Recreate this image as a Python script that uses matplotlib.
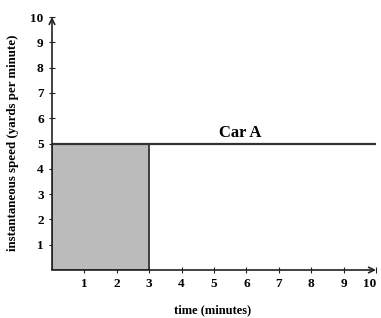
import matplotlib
matplotlib.use("Agg")
import matplotlib.pyplot as plt
from matplotlib.patches import Rectangle

x_ticks = [1, 2, 3, 4, 5, 6, 7, 8, 9, 10]
y_ticks = [1, 2, 3, 4, 5, 6, 7, 8, 9, 10]
speed = 5
t_end = 10
shade_end = 3
car_label = "Car A"

plt.rcParams['font.family'] = ['Liberation Serif', 'DejaVu Serif']
plt.rcParams['font.weight'] = 'bold'

fig = plt.figure(figsize=(3.81, 3.18), dpi=100)
ax = fig.add_axes([52/381, 1-270/318, (376-52)/381, (270-17)/318])
ax.set_xlim(0, 10)
ax.set_ylim(0, 10)
for s in ax.spines.values():
    s.set_visible(False)

ax.add_patch(Rectangle((0, 0), shade_end, speed, facecolor='#bbbbbb',
                       edgecolor='#333333', linewidth=1.3, zorder=2))
ax.plot([0, t_end], [speed, speed], color='#333333', linewidth=1.6, zorder=3)

ax.annotate('', xy=(10, 0), xytext=(0, 0),
            arrowprops=dict(arrowstyle='->', color='#222222', lw=1.2, shrinkA=0, shrinkB=0),
            annotation_clip=False, zorder=4)
ax.annotate('', xy=(0, 10), xytext=(0, 0),
            arrowprops=dict(arrowstyle='->', color='#222222', lw=1.2, shrinkA=0, shrinkB=0),
            annotation_clip=False, zorder=4)

ax.set_xticks(x_ticks)
ax.set_yticks(y_ticks)
ax.set_xticklabels([str(v) for v in x_ticks], fontsize=9.5, fontweight='bold')
ax.set_yticklabels([str(v) for v in y_ticks], fontsize=9.5, fontweight='bold')
ax.tick_params(direction='inout', length=4, width=0.8, color='#222222', pad=4)
ax.get_xticklabels()[-1].set_horizontalalignment('right')

ax.text(5.8, 5.1, car_label, fontsize=12, fontweight='bold', ha='center', va='bottom')

fig.text(213/381, 1-310/318, 'time (minutes)', fontsize=9, fontweight='bold',
         ha='center', va='center')
fig.text(13/381, 1-143/318, 'instantaneous speed (yards per minute)', fontsize=9.3,
         fontweight='bold', ha='center', va='center', rotation=90)

fig.savefig('out.png', dpi=100)
